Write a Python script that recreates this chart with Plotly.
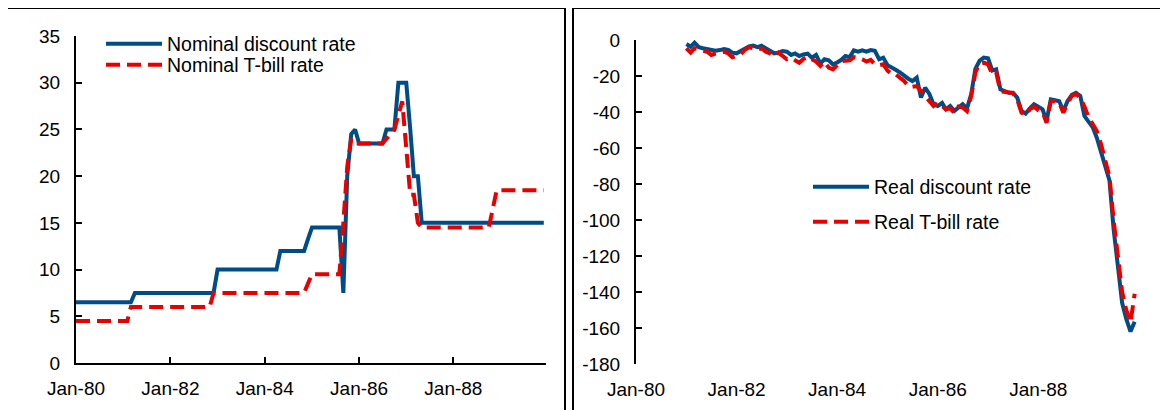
import pandas as pd
import plotly.graph_objects as go

# ---------------- data ----------------
nominal_dates = pd.date_range("1980-01-01", periods=120, freq="MS")
nominal_discount = (
    [6.5] * 15 + [7.5] * 21 + [10] * 16 + [12] * 7 + [13.25] + [14.5] * 8 +
    [7.5, 20, 24.5, 25] + [23.5] * 7 + [25] * 3 + [30] * 3 + [25, 20, 20] + [15] * 32
)
nominal_tbill = (
    [4.5] * 14 + [6] * 21 + [7.5] * 24 + [8.5] + [9.5] * 8 +
    [15, 21, 24] + [23.5] * 8 + [24, 24.5, 25, 26.5, 28, 23, 18, 18, 15] +
    [14.5] * 18 + [16.5] + [18.5] * 13
)

real_dates = pd.date_range("1981-01-01", periods=108, freq="MS")
real_discount = [
    -2.2, -3.7, -1.5, -4.0, -4.6, -5.0, -5.8, -6.0, -5.6, -5.0, -5.5, -7.0,
    -7.4, -6.0, -4.8, -3.5, -3.1, -4.0, -3.2, -4.5, -6.0, -7.4, -7.0, -6.1,
    -6.5, -8.3, -7.5, -8.9, -8.0, -7.6, -9.8, -8.3, -13.0, -10.7, -11.3, -13.5,
    -12.5, -11.0, -8.9, -9.5, -5.8, -6.5, -5.7, -6.5, -5.6, -6.0, -10.7, -9.8,
    -14.0, -15.0, -16.5, -18.0, -20.0, -21.5, -22.8, -20.9, -32.0, -26.5, -30.0, -35.7,
    -36.7, -35.0, -38.5, -36.7, -39.4, -37.5, -35.7, -38.0, -30.0, -16.0, -11.5, -9.8,
    -10.2, -17.0, -16.3, -27.4, -28.5, -29.3, -29.3, -32.0, -39.4, -40.9, -38.0, -35.7,
    -37.0, -38.5, -45.0, -33.0, -33.5, -34.0, -39.4, -33.9, -30.5, -29.3, -31.0, -42.2,
    -45.5, -48.7, -54.3, -62.0, -70.0, -78.0, -105.0, -128.0, -146.0, -155.0, -162.0, -156.5,
]
real_tbill = [
    -4.6, -7.0, -4.6, -5.5, -5.9, -6.5, -8.3, -7.5, -7.0, -6.5, -7.5, -9.6,
    -9.0, -7.8, -5.5, -4.0, -4.5, -5.6, -4.6, -6.5, -7.5, -9.0, -7.0, -8.5,
    -10.7, -10.0, -11.5, -12.6, -10.5, -9.4, -10.7, -12.0, -14.4, -12.0, -15.4, -16.3,
    -14.0, -11.7, -11.5, -11.3, -9.5, -10.0, -10.7, -12.0, -11.0, -13.5, -14.0, -13.5,
    -17.0, -19.0, -19.0, -21.0, -22.8, -25.6, -26.0, -25.6, -28.3, -31.0, -33.9, -36.7,
    -34.8, -37.0, -38.5, -38.0, -40.4, -37.0, -37.5, -39.5, -31.0, -18.0, -13.0, -12.6,
    -13.5, -19.0, -18.0, -28.5, -29.0, -29.5, -29.5, -33.0, -40.4, -41.7, -38.5, -37.0,
    -39.0, -40.0, -46.0, -34.0, -34.0, -35.0, -40.4, -35.0, -31.0, -30.0, -32.0, -37.0,
    -43.0, -47.0, -50.6, -58.0, -66.0, -76.0, -100.0, -122.0, -140.0, -150.0, -157.0, -141.0,
]

left_yticks = [0, 5, 10, 15, 20, 25, 30, 35]
right_yticks = [0, -20, -40, -60, -80, -100, -120, -140, -160, -180]
right_yticklabels = [str(v) for v in right_yticks]

# ---------------- style ----------------
W, H = 1168, 410
OFF = 8  # page body margin offset
BLUE = "#004C86"
RED = "#E60000"
FONT = "Liberation Sans, Arial, sans-serif"
FS = 19
LFS = 19.5

def px(x):
    return (x - OFF) / W

def py(y):
    return 1 - (y - OFF) / H

fig = go.Figure()
fig.add_trace(go.Scatter(x=nominal_dates, y=nominal_discount, mode="lines",
                         name="Nominal discount rate", line=dict(color=BLUE, width=4),
                         xaxis="x", yaxis="y", legend="legend"))
fig.add_trace(go.Scatter(x=nominal_dates, y=nominal_tbill, mode="lines",
                         name="Nominal T-bill rate", line=dict(color=RED, width=4, dash="14px,7px"),
                         xaxis="x", yaxis="y", legend="legend2"))
fig.add_trace(go.Scatter(x=real_dates, y=real_discount, mode="lines",
                         name="Real discount rate", line=dict(color=BLUE, width=4),
                         xaxis="x2", yaxis="y2", legend="legend3"))
fig.add_trace(go.Scatter(x=real_dates, y=real_tbill, mode="lines",
                         name="Real T-bill rate", line=dict(color=RED, width=4, dash="14px,7px"),
                         xaxis="x2", yaxis="y2", legend="legend4"))

xr = ["1980-01-01", "1989-12-18"]
tickfont = dict(family=FONT, size=FS, color="black")
common_x = dict(type="date", range=xr, tick0="1980-01-01", dtick="M24", tickformat="%b-%y",
                showgrid=False, zeroline=False, automargin=False)

leg = dict(font=dict(family=FONT, size=LFS, color="black"), bgcolor="rgba(0,0,0,0)",
           xanchor="left", yanchor="middle", itemwidth=56, borderwidth=0)

fig.update_layout(
    template="none",
    width=W, height=H, margin=dict(l=0, r=0, t=0, b=0, autoexpand=False),
    paper_bgcolor="white", plot_bgcolor="white",
    font=dict(family=FONT, size=FS, color="black"),
    showlegend=True,
    xaxis=dict(domain=[px(76), px(546)], anchor="y", showline=True, linecolor="black", linewidth=2,
               ticks="inside", ticklen=6, tickwidth=2, tickcolor="black", ticklabelstandoff=7,
               tickfont=tickfont, **common_x),
    yaxis=dict(domain=[py(363), py(36)], anchor="x", range=[0, 35], tickvals=left_yticks,
               showline=True, linecolor="black", linewidth=2, ticks="inside", ticklen=6, tickwidth=2,
               tickcolor="black", showgrid=False, zeroline=False, ticklabelstandoff=10,
               automargin=False, tickfont=tickfont),
    xaxis2=dict(domain=[px(636), px(1137)], anchor="y2", showline=False, ticks="",
                ticklabelstandoff=12, tickfont=tickfont, **common_x),
    xaxis3=dict(domain=[px(636), px(1137)], anchor="y2", overlaying="x2", side="top",
                showline=True, linecolor="black", linewidth=2, ticks="inside", ticklen=6, tickwidth=2,
                tickcolor="black", showticklabels=False, **common_x),
    yaxis2=dict(domain=[py(364), py(40)], anchor="x2", range=[-180, 0], tickvals=right_yticks,
                ticktext=right_yticklabels, showline=True, linecolor="black", linewidth=2,
                ticks="inside", ticklen=6, tickwidth=2, tickcolor="black", showgrid=False,
                zeroline=False, ticklabelstandoff=10, automargin=False, tickfont=tickfont),
    legend=dict(x=px(101), y=py(44), **leg),
    legend2=dict(x=px(101), y=py(65), **leg),
    legend3=dict(x=px(808), y=py(187), **leg),
    legend4=dict(x=px(808), y=py(222), **leg),
    shapes=[
        dict(type="rect", xref="paper", yref="paper", x0=px(7), x1=px(565), y0=-0.05, y1=py(8),
             line=dict(color="black", width=2)),
        dict(type="rect", xref="paper", yref="paper", x0=px(573), x1=px(1163), y0=-0.05, y1=py(8),
             line=dict(color="black", width=2)),
    ],
)

fig.write_html("out.html")
